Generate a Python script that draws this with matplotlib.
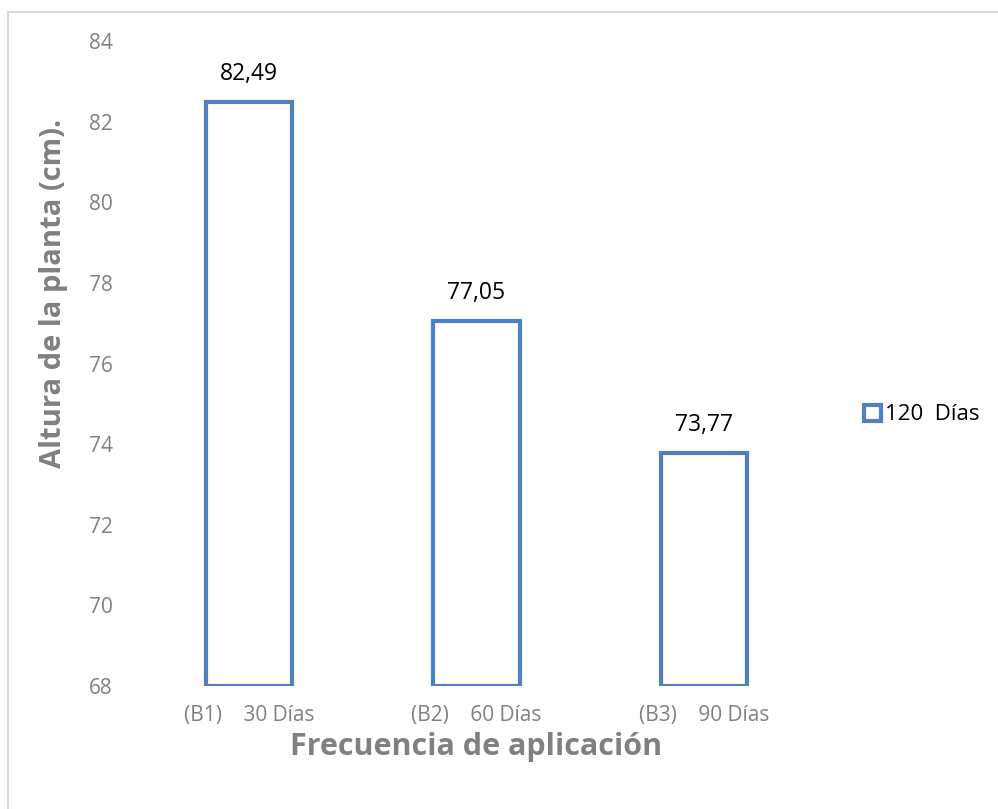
import matplotlib.pyplot as plt
from matplotlib.lines import Line2D

plt.rcParams['font.family'] = ['Open Sans', 'DejaVu Sans']

# data
categories = ['(B1)    30 Días', '(B2)    60 Días', '(B3)    90 Días']
heights = [82.49, 77.05, 73.77]
value_labels = ['82,49', '77,05', '73,77']
series_name = '120  Días'
y_ticks = [68, 70, 72, 74, 76, 78, 80, 82, 84]

blue = '#4F81BD'
gray = '#808080'

fig = plt.figure(figsize=(9.98, 8.09), dpi=100)
W, H = 998, 809

# chart area border: only left and top edges are visible in the reference
fig.lines.append(Line2D([8 / W, 8 / W], [0, 1 - 12 / H], transform=fig.transFigure,
                        color='#D9D9D9', linewidth=1.5))
fig.lines.append(Line2D([8 / W, 1], [1 - 12 / H, 1 - 12 / H], transform=fig.transFigure,
                        color='#D9D9D9', linewidth=1.5))

ax = fig.add_axes([135 / W, 1 - 686 / H, (818 - 135) / W, (686 - 41) / H])

x = range(len(categories))
bars = ax.bar(x, [h - y_ticks[0] for h in heights], bottom=y_ticks[0], width=0.38,
              facecolor='white', edgecolor=blue, linewidth=3, label=series_name)

for b, lab in zip(bars, value_labels):
    ax.text(b.get_x() + b.get_width() / 2, b.get_y() + b.get_height() + 0.4, lab,
            ha='center', va='bottom', fontsize=16.5, color='black')

ax.set_xlim(-0.5, 2.5)
ax.set_ylim(y_ticks[0], y_ticks[-1])
ax.set_yticks(y_ticks)
ax.set_xticks(list(x))
ax.set_xticklabels(categories)
ax.tick_params(axis='y', length=0, pad=16, labelsize=15, labelcolor=gray)
ax.tick_params(axis='x', length=0, pad=14, labelsize=15, labelcolor=gray)
for s in ax.spines.values():
    s.set_visible(False)

ax.set_xlabel('Frecuencia de aplicación', fontsize=22, fontweight='bold', color=gray, labelpad=4)
ax.set_ylabel('Altura de la planta (cm).', fontsize=21, fontweight='bold', color=gray)
ax.yaxis.set_label_coords(-0.098, 0.609)

fig.legend(handles=[bars], labels=[series_name], loc='center left',
           bbox_to_anchor=(844 / W, 1 - 415 / H), frameon=False, fontsize=16,
           handlelength=0.75, handleheight=0.75, handletextpad=0.2)

fig.savefig('out.png', dpi=100)
